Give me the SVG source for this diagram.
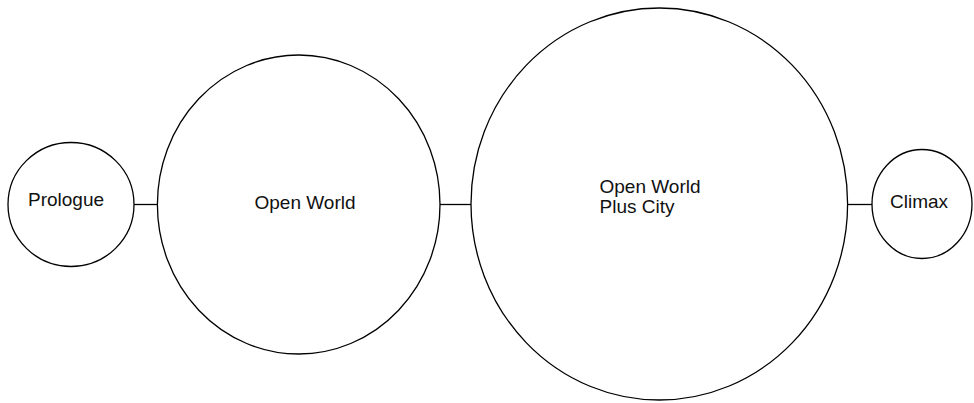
<svg xmlns="http://www.w3.org/2000/svg" width="974" height="403" viewBox="0 0 974 403">
  <style>
    .node { fill: #ffffff; stroke: #000000; stroke-width: 1.3; }
    .edge { stroke: #000000; stroke-width: 1.3; fill: none; }
    .label { font-family: "Liberation Sans", Arial, sans-serif; font-size: 19px; fill: #111111; }
  </style>
  <rect width="974" height="403" fill="#ffffff"/>
  <g id="connectors">
    <line class="edge" x1="134" y1="204.5" x2="158" y2="204.5"/>
    <line class="edge" x1="440" y1="204.5" x2="471" y2="204.5"/>
    <line class="edge" x1="847.5" y1="204.5" x2="872" y2="204.5"/>
  </g>
  <g id="prologue">
    <ellipse class="node" cx="71" cy="204.5" rx="63" ry="62"/>
    <text class="label" x="66" y="205.5" text-anchor="middle">Prologue</text>
  </g>
  <g id="open-world">
    <ellipse class="node" cx="298.7" cy="204.5" rx="141.3" ry="149.5"/>
    <text class="label" x="305" y="209" text-anchor="middle">Open World</text>
  </g>
  <g id="open-world-plus-city">
    <ellipse class="node" cx="659.3" cy="204" rx="188.3" ry="196"/>
    <text class="label" x="599.5" y="192.7">Open World</text>
    <text class="label" x="599.5" y="213.3">Plus City</text>
  </g>
  <g id="climax">
    <ellipse class="node" cx="922" cy="204" rx="50" ry="54.5"/>
    <text class="label" x="919" y="208.3" text-anchor="middle">Climax</text>
  </g>
</svg>
